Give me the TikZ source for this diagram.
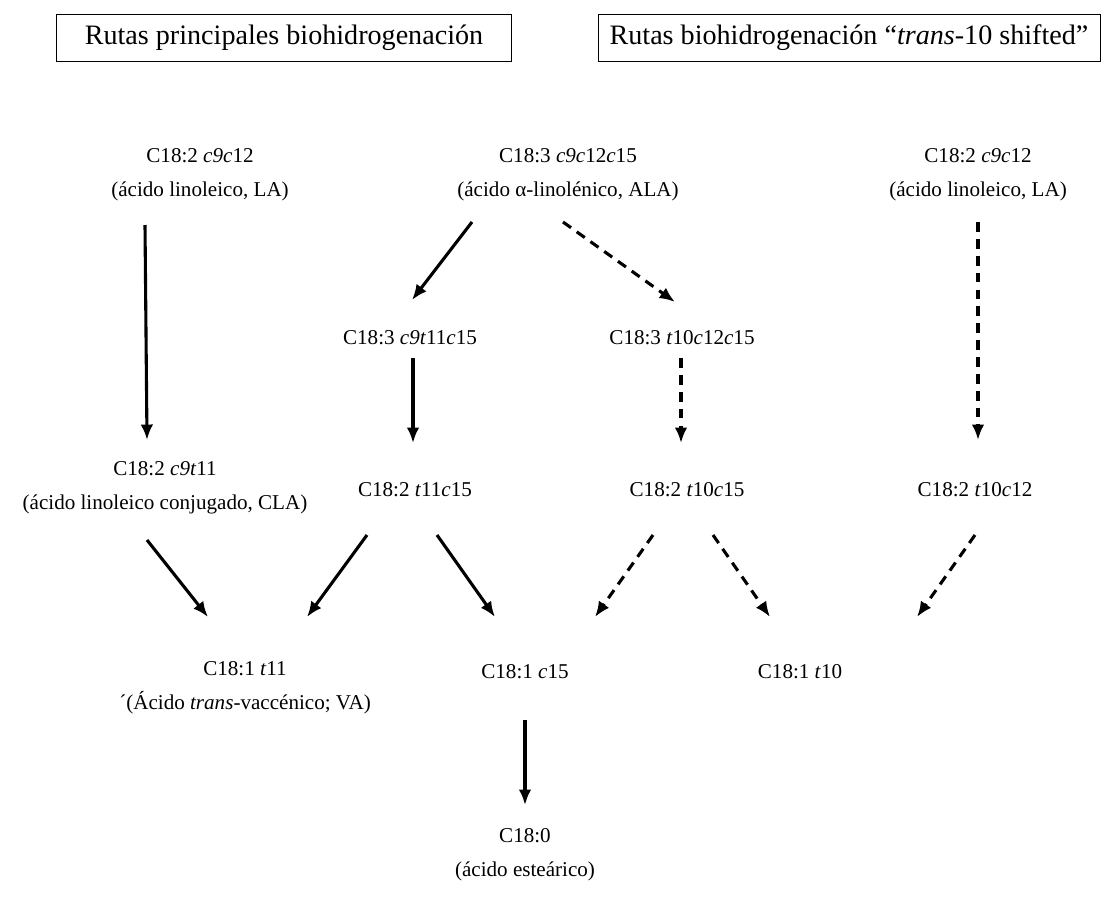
\documentclass[tikz,border=0pt]{standalone}
\usepackage{fontspec}
\setmainfont{Liberation Serif}
\usetikzlibrary{arrows.meta,calc}

\begin{document}
\begin{tikzpicture}[x=0.025cm,y=-0.025cm,
    acid/.style={align=center,font=\fontsize{15}{24}\selectfont},
    titulo/.style={draw,line width=0.6pt,minimum height=1.175cm,font=\fontsize{20}{24}\selectfont},
    ruta/.style={line width=2.2pt,-{Latex[length=11pt,width=9pt]}},
    shifted/.style={ruta,dash pattern=on 7pt off 5pt}]
  \useasboundingbox (0,0) rectangle (1104,901);
  % Titles
  \node[titulo,minimum width=11.375cm] (tA) at (284,38) {Rutas principales biohidrogenación};
  \node[titulo,minimum width=12.55cm]  (tB) at (849,38) {Rutas biohidrogenación “\textit{trans}-10 shifted”};
  % Precursors
  \node[acid] (la1)   at (200,175) {C18:2 \textit{c9c}12\\(ácido linoleico, LA)};
  \node[acid] (ala)   at (568,175) {C18:3 \textit{c9c}12\textit{c}15\\(ácido α-linolénico, ALA)};
  \node[acid] (la2)   at (978,175) {C18:2 \textit{c9c}12\\(ácido linoleico, LA)};
  % Intermediates
  \node[acid] (c9t11)  at (410,338) {C18:3 \textit{c9t}11\textit{c}15};
  \node[acid] (t10c12) at (682,338) {C18:3 \textit{t}10\textit{c}12\textit{c}15};
  \node[acid] (cla)    at (165,488) {C18:2 \textit{c9t}11\\(ácido linoleico conjugado, CLA)};
  \node[acid] (t11c15) at (415,490) {C18:2 \textit{t}11\textit{c}15};
  \node[acid] (t10c15) at (687,490) {C18:2 \textit{t}10\textit{c}15};
  \node[acid] (t10c)   at (975,490) {C18:2 \textit{t}10\textit{c}12};
  % Monoenes and end product
  \node[acid] (t11)   at (245,688) {C18:1 \textit{t}11\\´(Ácido \textit{trans}-vaccénico; VA)};
  \node[acid] (c15)   at (525,672) {C18:1 \textit{c}15};
  \node[acid] (t10)   at (800,672) {C18:1 \textit{t}10};
  \node[acid] (sta)   at (525,855) {C18:0\\(ácido esteárico)};
  % Main pathways
  \draw[ruta] ($(la1)+(-55,50)$)    -- ($(cla)+(-18,-48)$);
  \draw[ruta] ($(ala)+(-96,47)$)    -- ($(c9t11)+(2,-38)$);
  \draw[ruta] ($(c9t11)+(3,20)$)    -- ($(t11c15)+(-2,-47)$);
  \draw[ruta] ($(cla)+(-18,52)$)    -- ($(t11)+(-37,-71)$);
  \draw[ruta] ($(t11c15)+(-48,45)$) -- ($(t11)+(62,-71)$);
  \draw[ruta] ($(t11c15)+(22,45)$)  -- ($(c15)+(-30,-55)$);
  \draw[ruta] ($(c15)+(0,48)$)      -- ($(sta)+(0,-50)$);
  % trans-10 shifted pathways
  \draw[shifted] ($(ala)+(-5,47)$)     -- ($(t10c12)+(-7,-36)$);
  \draw[shifted] ($(la2)+(0,47)$)      -- ($(t10c)+(3,-50)$);
  \draw[shifted] ($(t10c12)+(-1,20)$)  -- ($(t10c15)+(-6,-47)$);
  \draw[shifted] ($(t10c15)+(-34,45)$) -- ($(c15)+(70,-55)$);
  \draw[shifted] ($(t10c15)+(26,45)$)  -- ($(t10)+(-30,-55)$);
  \draw[shifted] ($(t10c)+(0,45)$)     -- ($(t10)+(117,-55)$);
\end{tikzpicture}
\end{document}
